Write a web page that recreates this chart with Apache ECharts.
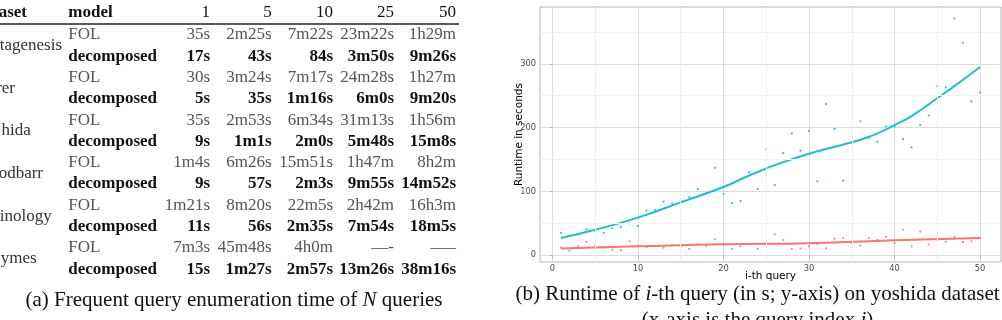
<!DOCTYPE html>
<html>
<head>
<meta charset="utf-8">
<script src="https://cdn.jsdelivr.net/npm/echarts@6/dist/echarts.min.js"></script>
<style>
  html, body { margin: 0; padding: 0; background: #fff; }
  #main { width: 1002px; height: 320px; }
</style>
</head>
<body>
<div id="main"></div>
<script>
// table (a): the dataset names are cropped at the left edge in the source
var datasetNames = ['tagenesis', 'rer', 'hida', 'odbarr', 'inology', 'ymes'];
var colHeads = ['1', '5', '10', '25', '50'];
var folTimes = [
  ['35s', '2m25s', '7m22s', '23m22s', '1h29m'],
  ['30s', '3m24s', '7m17s', '24m28s', '1h27m'],
  ['35s', '2m53s', '6m34s', '31m13s', '1h56m'],
  ['1m4s', '6m26s', '15m51s', '1h47m', '8h2m'],
  ['1m21s', '8m20s', '22m5s', '2h42m', '16h3m'],
  ['7m3s', '45m48s', '4h0m', '—-', '—–']
];
var decTimes = [
  ['17s', '43s', '84s', '3m50s', '9m26s'],
  ['5s', '35s', '1m16s', '6m0s', '9m20s'],
  ['9s', '1m1s', '2m0s', '5m48s', '15m8s'],
  ['9s', '57s', '2m3s', '9m55s', '14m52s'],
  ['11s', '56s', '2m35s', '7m54s', '18m5s'],
  ['15s', '1m27s', '2m57s', '13m26s', '38m16s']
];

// plot (b): runtime per query index
var queryIdx = [];
for (var q = 1; q <= 50; q++) queryIdx.push(q);
var folRuntime = [35, 30, 33, 41, 38, 35, 42, 44, 50, 46,
  70, 71, 84, 81, 85, 91, 104, 98, 137, 96,
  82, 85, 130, 104, 166, 110, 160, 191, 164, 195,
  116, 237, 198, 117, 177, 210, 184, 178, 202, 202,
  182, 169, 204, 219, 265, 263, 371, 333, 241, 255];
var decRuntime = [12, 7, 14, 21, 14, 12, 9, 8, 22, 15,
  13, 14, 12, 16, 14, 10, 17, 15, 25, 17,
  10, 14, 18, 10, 20, 33, 24, 10, 11, 14,
  17, 11, 26, 27, 19, 15, 27, 24, 29, 19,
  40, 14, 37, 17, 24, 21, 29, 21, 22, 27];
// smoothed fits
var fitX = [1, 5, 10, 15, 20, 23, 25, 27, 30, 33, 36, 38, 40, 42, 45, 47, 50];
var folFit = [27, 40, 59, 83, 107, 125, 136, 146, 159, 170, 181, 191, 204, 218, 246, 265, 295];
var decFitX = [1, 10, 20, 30, 40, 50];
var decFit = [10.5, 14, 17.5, 19, 23.5, 27];
var xTicks = [0, 10, 20, 30, 40, 50];
var yTicks = [0, 100, 200, 300];
var xMinor = [5, 15, 25, 35, 45];
var yMinor = [50, 150, 250, 350];

var chart = echarts.init(document.getElementById('main'));

var serif = '"Liberation Serif", "Times New Roman", serif';
var sans = '"DejaVu Sans", sans-serif';
var colRight = [210, 271.7, 333, 394, 456];
var rowH = 21.3;

function txt(x, y, s, opts) {
  opts = opts || {};
  return {
    type: 'text',
    silent: true,
    style: {
      x: x, y: y, text: s,
      font: (opts.bold ? 'bold ' : '') + (opts.size || 17) + 'px ' + serif,
      fill: opts.color || '#111',
      align: opts.align || 'left', textAlign: opts.align || 'left',
      verticalAlign: 'middle', textVerticalAlign: 'middle'
    }
  };
}

var graphics = [];
// header
graphics.push(txt(27, 12.5, 'aset', { bold: true, align: 'right' }));
graphics.push(txt(68.3, 12.5, 'model', { bold: true }));
colHeads.forEach(function (h, c) {
  graphics.push(txt(colRight[c], 12.5, h, { align: 'right' }));
});
graphics.push({
  type: 'line', silent: true,
  shape: { x1: 0, y1: 24, x2: 459, y2: 24 },
  style: { stroke: '#222', lineWidth: 1.3 }
});
var nameRight = [62, 15, 30.7, 43, 51.7, 36.7];
datasetNames.forEach(function (name, j) {
  var yF = 35 + 2 * j * rowH;
  var yD = yF + rowH;
  graphics.push(txt(nameRight[j], yF + rowH / 2, name, { align: 'right', color: '#333' }));
  graphics.push(txt(68.3, yF, 'FOL', { color: '#555' }));
  graphics.push(txt(68.3, yD, 'decomposed', { bold: true }));
  folTimes[j].forEach(function (t, c) {
    graphics.push(txt(colRight[c], yF, t, { align: 'right', color: '#555' }));
  });
  decTimes[j].forEach(function (t, c) {
    graphics.push(txt(colRight[c], yD, t, { align: 'right', bold: true }));
  });
});

function caption(x, y, s) {
  return {
    type: 'text', silent: true,
    style: {
      x: x, y: y, text: s,
      fontSize: 21, fontFamily: serif, fill: '#111',
      align: 'center', textAlign: 'center',
      verticalAlign: 'middle', textVerticalAlign: 'middle',
      rich: { it: { fontSize: 21, fontFamily: serif, fontStyle: 'italic', fill: '#111' } }
    }
  };
}
graphics.push(caption(234, 300, '(a) Frequent query enumeration time of {it|N} queries'));
graphics.push(caption(757.5, 294, '(b) Runtime of {it|i}-th query (in s; y-axis) on yoshida dataset'));
graphics.push(caption(757.5, 320, '(x-axis is the query index {it|i})'));

function pairs(xs, ys) {
  return xs.map(function (x, k) { return [x, ys[k]]; });
}

var option = {
  animation: false,
  backgroundColor: '#fff',
  grid: {
    left: 540, top: 7, width: 461, height: 255,
    show: true, borderColor: '#b3b3b3', borderWidth: 1,
    containLabel: false, outerBoundsMode: 'none'
  },
  xAxis: {
    type: 'value', min: -1.45, max: 52.45,
    name: 'i-th query', nameLocation: 'middle', nameGap: 8.5, nameMoveOverlap: false,
    nameTextStyle: { fontFamily: sans, fontSize: 10.5, color: '#000' },
    axisLine: { show: false },
    axisTick: { show: true, length: 3, customValues: xTicks, lineStyle: { color: '#b3b3b3' } },
    axisLabel: { customValues: xTicks, margin: 3, fontFamily: sans, fontSize: 8.3, color: '#4d4d4d' },
    splitLine: { show: true, lineStyle: { color: '#dcdcdc', width: 1 } }
  },
  yAxis: {
    type: 'value', min: -10.5, max: 389,
    name: 'Runtime in seconds', nameLocation: 'middle', nameGap: 15, nameMoveOverlap: false,
    nameTextStyle: { fontFamily: sans, fontSize: 10.5, color: '#000' },
    axisLine: { show: false },
    axisTick: { show: true, length: 3, customValues: yTicks, lineStyle: { color: '#b3b3b3' } },
    axisLabel: { customValues: yTicks, margin: 4, fontFamily: sans, fontSize: 8.3, color: '#4d4d4d' },
    splitLine: { show: true, lineStyle: { color: '#dcdcdc', width: 1 } }
  },
  graphic: graphics,
  series: [
    {
      name: 'minor grid', type: 'line', data: [], z: 0, silent: true,
      markLine: {
        silent: true, symbol: ['none', 'none'], label: { show: false },
        lineStyle: { color: '#efefef', width: 1, type: 'solid' },
        data: xMinor.map(function (v) { return { xAxis: v }; })
          .concat(yMinor.map(function (v) { return { yAxis: v }; }))
      }
    },
    {
      name: 'FOL', type: 'scatter', symbolSize: 2.2, z: 2,
      itemStyle: { color: '#00BFC4', opacity: 0.85 },
      data: pairs(queryIdx, folRuntime)
    },
    {
      name: 'decomposed', type: 'scatter', symbolSize: 2.2, z: 2,
      itemStyle: { color: '#F8766D', opacity: 0.85 },
      data: pairs(queryIdx, decRuntime)
    },
    {
      name: 'FOL fit', type: 'line', smooth: 0.5, showSymbol: false, z: 3,
      lineStyle: { color: '#20BFC4', width: 2 },
      data: pairs(fitX, folFit)
    },
    {
      name: 'decomposed fit', type: 'line', smooth: 0.5, showSymbol: false, z: 3,
      lineStyle: { color: '#F8766D', width: 2 },
      data: pairs(decFitX, decFit)
    }
  ]
};

chart.setOption(option);
</script>
</body>
</html>
